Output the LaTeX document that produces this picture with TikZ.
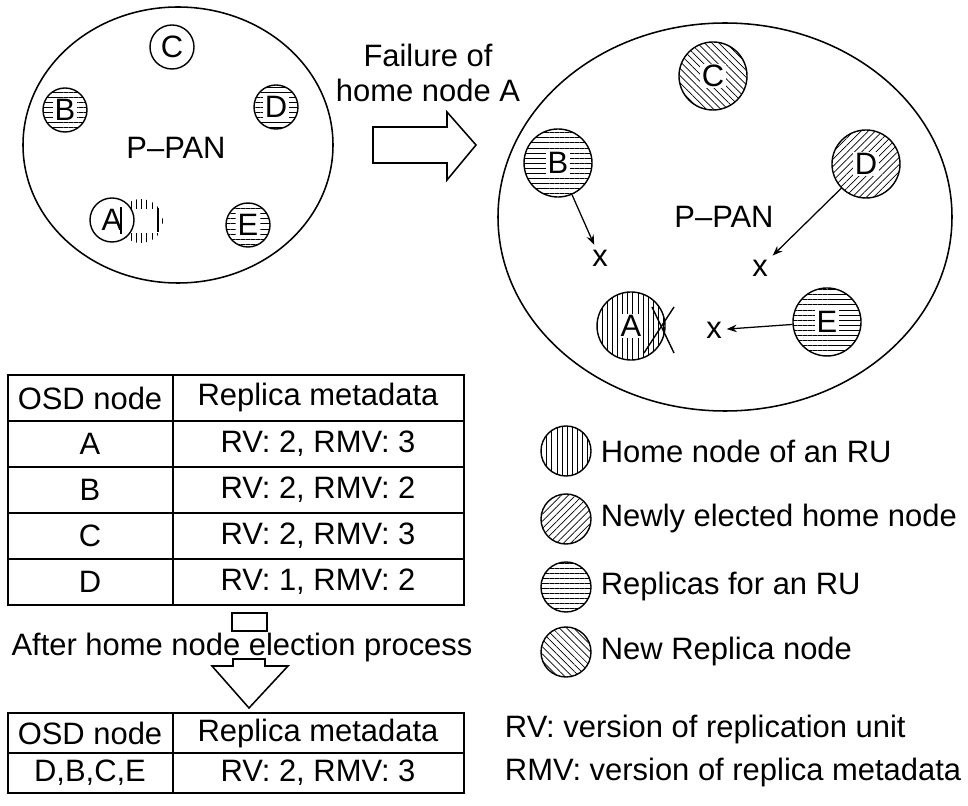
\documentclass[tikz,border=0pt]{standalone}
\usepackage{fontspec}
\setmainfont{Liberation Sans}
\usetikzlibrary{positioning, arrows.meta, patterns.meta}

\tikzset{
  osd/.style={circle, draw, line width=1pt, minimum size=1.1cm, inner sep=0pt},
  bigosd/.style={osd, minimum size=1.7cm},
  keyosd/.style={osd, minimum size=1.25cm},
  letter/.style={fill=white, inner sep=1pt},
  home/.style={pattern={Lines[angle=90, distance=3.6pt, line width=0.5pt]}},
  elected/.style={pattern={Lines[angle=45, distance=3.6pt, line width=0.5pt]}},
  repl/.style={pattern={Lines[angle=0, distance=3.6pt, line width=0.5pt]}},
  newrepl/.style={pattern={Lines[angle=-45, distance=3.6pt, line width=0.5pt]}},
  outline/.style={line width=1.1pt},
  cell/.style={inner sep=0pt}
}

\begin{document}
\begin{tikzpicture}[x=0.025cm, y=-0.025cm, >=Stealth, font=\fontsize{22}{26}\selectfont]
  \useasboundingbox (0,0) rectangle (968,806);

  % --- P-PAN before the failure ---
  \draw[outline] (178,145) ellipse [x radius=155, y radius=138];
  \node (pan1) at (176,148) {P--PAN};
  \node[osd] (lC) at (172,47) {C};
  \node[osd, repl] (lB) at (65,110) {};
  \node[letter] (lBt) at (lB) {B};
  \node[osd, repl] (lD) at (276,107) {};
  \node[letter] (lDt) at (lD) {D};
  \node[osd, repl] (lE) at (248,225) {};
  \node[letter] (lEt) at (lE) {E};
  \node[circle, minimum size=1.1cm, home] (lghost) at (141,221) {};
  \node[fill=white, minimum width=0.9cm, minimum height=0.6cm] (lgap) at (lghost) {};
  \node[osd, fill=white] (lA) at (112,220) {A};
  \draw[line width=0.8pt] (121,207) -- (121,234);
  \draw[line width=0.8pt] (158,208) -- (158,232);

  % --- transition ---
  \node (fail1) at (428,55) {Failure of};
  \node (fail2) at (428,90) {home node A};
  \draw[outline] (373,127) -- (447,127) -- (447,112) -- (476,145)
    -- (447,180) -- (447,163) -- (373,163) -- cycle;

  % --- P-PAN after the failure ---
  \draw[outline] (725,217) ellipse [x radius=227, y radius=194];
  \node (pan2) at (724,217) {P--PAN};
  \node[bigosd, newrepl] (rC) at (713,76) {};
  \node[letter] (rCt) at (rC) {C};
  \node[bigosd, repl] (rB) at (558,163) {};
  \node[letter] (rBt) at (rB) {B};
  \node[bigosd, elected] (rD) at (866,164) {};
  \node[letter] (rDt) at (rD) {D};
  \node[bigosd, home] (rA) at (631,326) {};
  \node[letter] (rAt) at (rA) {A};
  \node[bigosd, repl] (rE) at (827,322) {};
  \node[letter] (rEt) at (rE) {E};
  \draw[line width=1pt] (652,307) -- (674,353);
  \draw[line width=1pt] (674,307) -- (644,353);

  \node (xB) at (600,258) {x};
  \node (xD) at (760,268) {x};
  \node (xE) at (714,330) {x};
  \draw[->, line width=0.9pt] (rB) -- (xB);
  \draw[->, line width=0.9pt] (rD) -- (xD);
  \draw[->, line width=0.9pt] (rE) -- (xE);

  % --- legend ---
  \node[keyosd, home] (k1) at (566,451) {};
  \node[keyosd, elected] (k2) at (566,519) {};
  \node[keyosd, repl] (k3) at (566,587) {};
  \node[keyosd, newrepl] (k4) at (566,652) {};
  \node[right=3pt of k1] (k1t) {Home node of an RU};
  \node[right=3pt of k2] (k2t) {Newly elected home node};
  \node[right=3pt of k3] (k3t) {Replicas for an RU};
  \node[right=3pt of k4] (k4t) {New Replica node};

  % --- metadata table ---
  \draw[outline] (8,375) rectangle (464,605);
  \foreach \y in {421,467,513,559} \draw[outline] (8,\y) -- (464,\y);
  \draw[outline] (173,375) -- (173,605);
  \node[cell] (h1) at (90,398) {OSD node};
  \node[cell] (h2) at (318,398) {Replica metadata};
  \foreach \n/\v/\y in {A/{RV: 2, RMV: 3}/444, B/{RV: 2, RMV: 2}/490,
                        C/{RV: 2, RMV: 3}/536, D/{RV: 1, RMV: 2}/582} {
    \node[cell] (n\n) at (90,\y) {\n};
    \node[cell] (m\n) at (318,\y) {\v};
  }

  \draw[outline] (232,613) rectangle (267,631);
  \node[anchor=base] (elect) at (242,655) {After home node election process};
  \draw[outline] (233,659) -- (265,659) -- (265,666) -- (288,666) -- (249,708)
    -- (212,666) -- (233,666) -- cycle;

  \draw[outline] (8,713) rectangle (464,793);
  \draw[outline] (8,753) -- (464,753);
  \draw[outline] (173,713) -- (173,793);
  \node[cell] (h3) at (90,733) {OSD node};
  \node[cell] (h4) at (318,733) {Replica metadata};
  \node[cell] (nAll) at (90,773) {D,B,C,E};
  \node[cell] (mAll) at (318,773) {RV: 2, RMV: 3};

  \node[anchor=west] (rv) at (500,730) {RV: version of replication unit};
  \node[anchor=west] (rmv) at (500,772) {RMV: version of replica metadata};
\end{tikzpicture}
\end{document}
